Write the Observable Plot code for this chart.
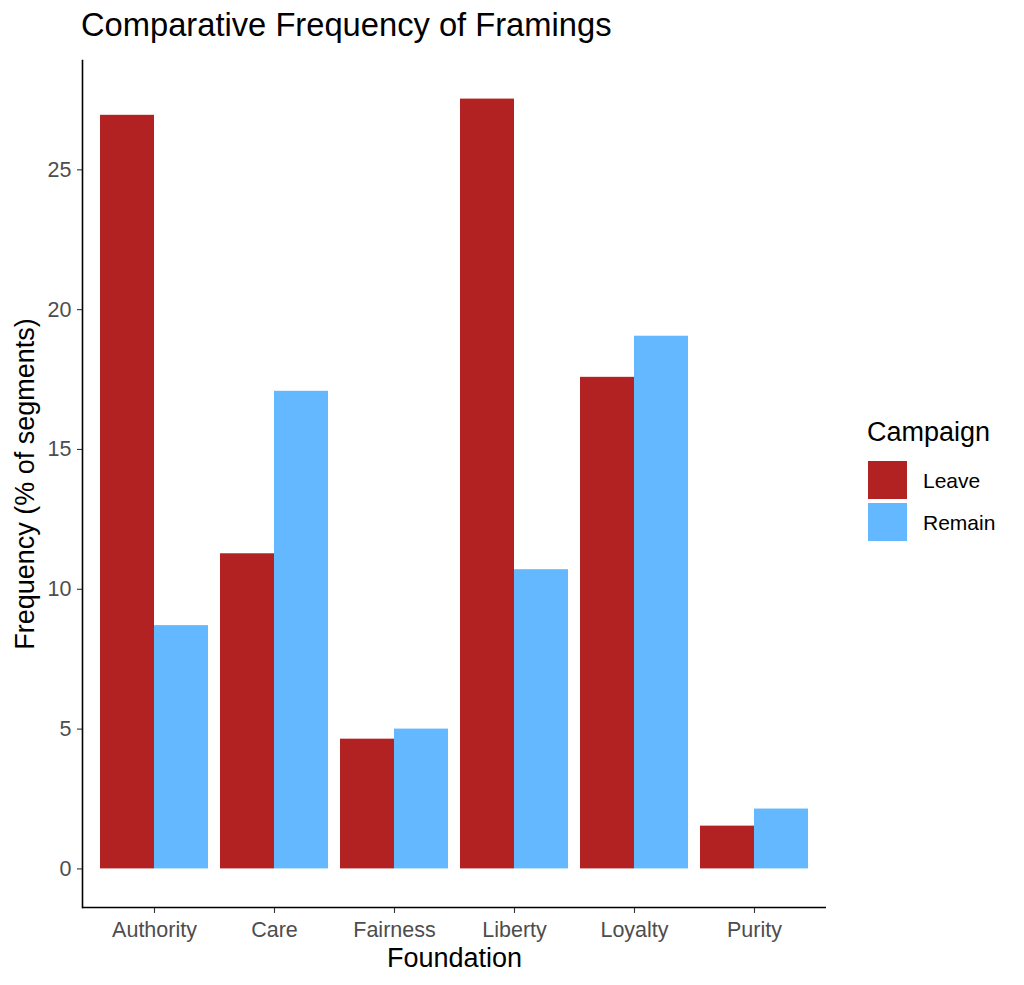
<!DOCTYPE html>
<html>
<head>
<meta charset="utf-8">
<script src="https://cdn.jsdelivr.net/npm/d3@7"></script>
<script src="https://cdn.jsdelivr.net/npm/@observablehq/plot@0.6"></script>
<style>
  body { margin: 0; background: #fff; font-family: "Liberation Sans", Arial, sans-serif; }
  #wrap { position: relative; width: 1024px; height: 985px; overflow: hidden; background: #fff; }
  #title { position: absolute; left: 81px; top: 9px; font-size: 32.7px; line-height: 32.7px; color: #000; white-space: nowrap; }
  #chart { position: absolute; left: 0; top: 50px; }
  #legend { position: absolute; left: 867px; top: 419px; color: #000; }
  #legend .ltitle { font-size: 27px; line-height: 27px; white-space: nowrap; }
  #legend .row { position: absolute; left: 1px; width: 160px; height: 38px; }
  #legend .sw { position: absolute; left: 0; top: 0; width: 39px; height: 38px; }
  #legend .lab { position: absolute; left: 55px; top: 9px; font-size: 21px; line-height: 21px; white-space: nowrap; }
</style>
</head>
<body>
<div id="wrap">
  <div id="title"></div>
  <div id="chart"></div>
  <div id="legend"></div>
</div>
<script>
const titleText = "Comparative Frequency of Framings";
const xLabel = "Foundation";
const yLabel = "Frequency (% of segments)";
const legendTitle = "Campaign";

const foundations = ["Authority", "Care", "Fairness", "Liberty", "Loyalty", "Purity"];
const campaigns = ["Leave", "Remain"];
const leaveValues = [26.95, 11.27, 4.64, 27.53, 17.58, 1.53];
const remainValues = [8.70, 17.08, 5.00, 10.70, 19.05, 2.14];
const yTicks = [0, 5, 10, 15, 20, 25];
const colors = ["#B22222", "#63B8FF"];
const yDomain = [-1.38, 28.91];

const data = [];
foundations.forEach((f, i) => {
  data.push({foundation: f, campaign: "Leave", value: leaveValues[i]});
  data.push({foundation: f, campaign: "Remain", value: remainValues[i]});
});

document.getElementById("title").textContent = titleText;

const half = 54;
const plot = Plot.plot({
  width: 1024,
  height: 935,
  marginTop: 10,
  marginBottom: 78,
  marginLeft: 82,
  marginRight: 198,
  style: {fontFamily: "Liberation Sans, Arial, sans-serif", background: "#fff", color: "#000"},
  x: {domain: foundations, paddingInner: 0.1, paddingOuter: 0.15, label: null},
  y: {domain: yDomain, label: null},
  color: {domain: campaigns, range: colors},
  marks: [
    Plot.barY(data.filter(d => d.campaign === "Leave"), {x: "foundation", y: "value", fill: "campaign", insetRight: half}),
    Plot.barY(data.filter(d => d.campaign === "Remain"), {x: "foundation", y: "value", fill: "campaign", insetLeft: half}),
    Plot.axisY({ticks: yTicks, tickSize: 5, tickPadding: 6, fontSize: "21.5px", label: null, stroke: "#333333", strokeWidth: 1.1, color: "#4D4D4D"}),
    Plot.axisX({tickSize: 6, tickPadding: 8, fontSize: "21.5px", label: null, stroke: "#333333", strokeWidth: 1.1, color: "#4D4D4D"}),
    Plot.ruleY([yDomain[0]], {stroke: "#000", strokeWidth: 1.6}),
    Plot.frame({anchor: "left", stroke: "#000", strokeWidth: 1.6}),
    Plot.text([xLabel], {frameAnchor: "bottom", textAnchor: "middle", lineAnchor: "middle", dy: 51, fontSize: 27, fill: "#000", text: d => d}),
    Plot.text([yLabel], {frameAnchor: "left", textAnchor: "middle", lineAnchor: "middle", dx: -57, rotate: -90, fontSize: 27, fill: "#000", text: d => d})
  ]
});
document.getElementById("chart").appendChild(plot);

// legend (ggplot-style keys)
const legend = document.getElementById("legend");
const lt = document.createElement("div");
lt.className = "ltitle";
lt.textContent = legendTitle;
legend.appendChild(lt);
campaigns.forEach((c, i) => {
  const row = document.createElement("div");
  row.className = "row";
  row.style.top = (42 + i * 42) + "px";
  const sw = document.createElement("div");
  sw.className = "sw";
  sw.style.background = colors[i];
  const lab = document.createElement("div");
  lab.className = "lab";
  lab.textContent = c;
  row.appendChild(sw);
  row.appendChild(lab);
  legend.appendChild(row);
});
</script>
</body>
</html>
